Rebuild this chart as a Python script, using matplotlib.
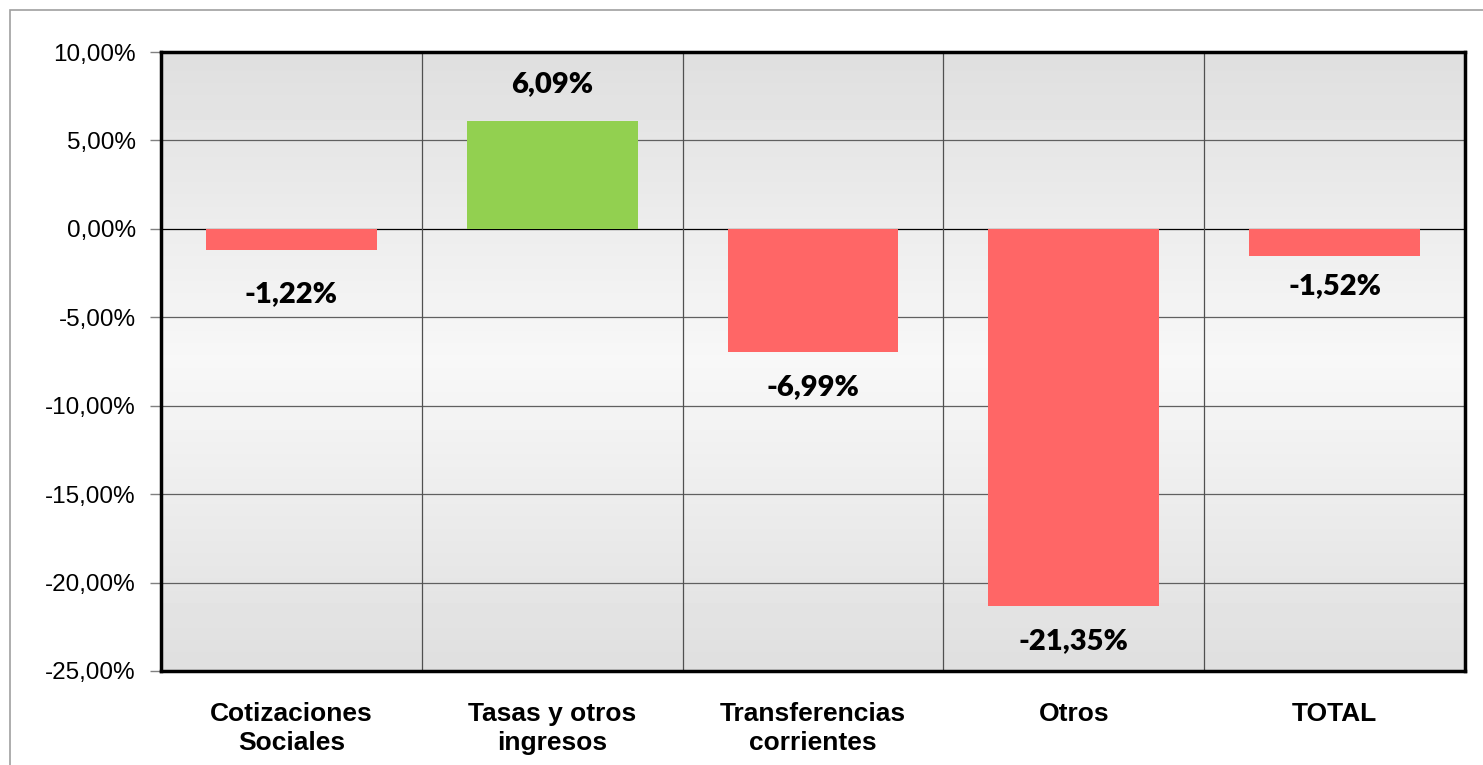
import numpy as np
import matplotlib.pyplot as plt
from matplotlib.patches import Rectangle
from matplotlib.ticker import FuncFormatter

# ------------------------------------------------------------
# Data
# ------------------------------------------------------------
categories = ["Cotizaciones\nSociales", "Tasas y otros\ningresos",
              "Transferencias\ncorrientes", "Otros", "TOTAL"]
values = [-1.22, 6.09, -6.99, -21.35, -1.52]
yticks = [10, 5, 0, -5, -10, -15, -20, -25]

pos_color = "#92D050"
neg_color = "#FF6666"

# label distance from bar end, in pixels (first one sits a bit lower)
label_gap = [44, 37, 35, 35, 30]

W, H = 1483, 765
fig = plt.figure(figsize=(W / 100, H / 100), dpi=100)

# outer chart border (cropped on the right and bottom)
fig.patches.append(Rectangle((10 / W, -0.1), 2, 1 - 10 / H + 0.1, transform=fig.transFigure,
                             fill=False, edgecolor="#a0a0a0", lw=1.2, zorder=0))

ax = fig.add_axes([161 / W, 1 - 671 / H, (1465 - 161) / W, (671 - 52) / H])

# gradient background: gray at edges, lighter in the middle
grad = np.concatenate([np.linspace(0.875, 0.97, 50), np.linspace(0.97, 0.875, 50)])
ax.imshow(grad.reshape(-1, 1), cmap="gray", vmin=0, vmax=1, aspect="auto",
          extent=(-0.5, len(categories) - 0.5, -25, 10), zorder=0)

x = np.arange(len(categories))
colors = [pos_color if v >= 0 else neg_color for v in values]
ax.bar(x, values, width=0.655, color=colors, zorder=3)

for xi, v, g in zip(x, values, label_gap):
    dy = g if v >= 0 else -g
    ax.annotate(f"{v:.2f}%".replace(".", ","), (xi, v), xytext=(0, dy * 0.72),
                textcoords="offset points", ha="center", va="center",
                fontsize=21, fontweight="heavy", family="Lato", zorder=4)

ax.set_xlim(-0.5, len(categories) - 0.5)
ax.set_ylim(-25, 10)
ax.set_yticks(yticks)
ax.yaxis.set_major_formatter(FuncFormatter(lambda v, p: f"{v:.2f}%".replace(".", ",")))
for yv in yticks:
    ax.axhline(yv, color="#606060" if yv != 0 else "black", lw=0.9, zorder=1)
for b in np.arange(0.5, len(categories) - 0.5, 1):
    ax.axvline(b, color="#505050", lw=0.9, zorder=1)

ax.set_xticks(x)
ax.set_xticklabels(categories, fontsize=19, fontweight="bold", family="Liberation Sans",
                   linespacing=1.28)
ax.tick_params(axis="x", length=0, pad=22)
ax.tick_params(axis="y", length=8, width=1, color="#808080", labelsize=17.5, pad=10)
for lab in ax.get_yticklabels():
    lab.set_family("Liberation Sans")

for s in ax.spines.values():
    s.set_linewidth(2.5)
    s.set_color("black")
    s.set_zorder(5)

fig.savefig("out.png", dpi=100)
